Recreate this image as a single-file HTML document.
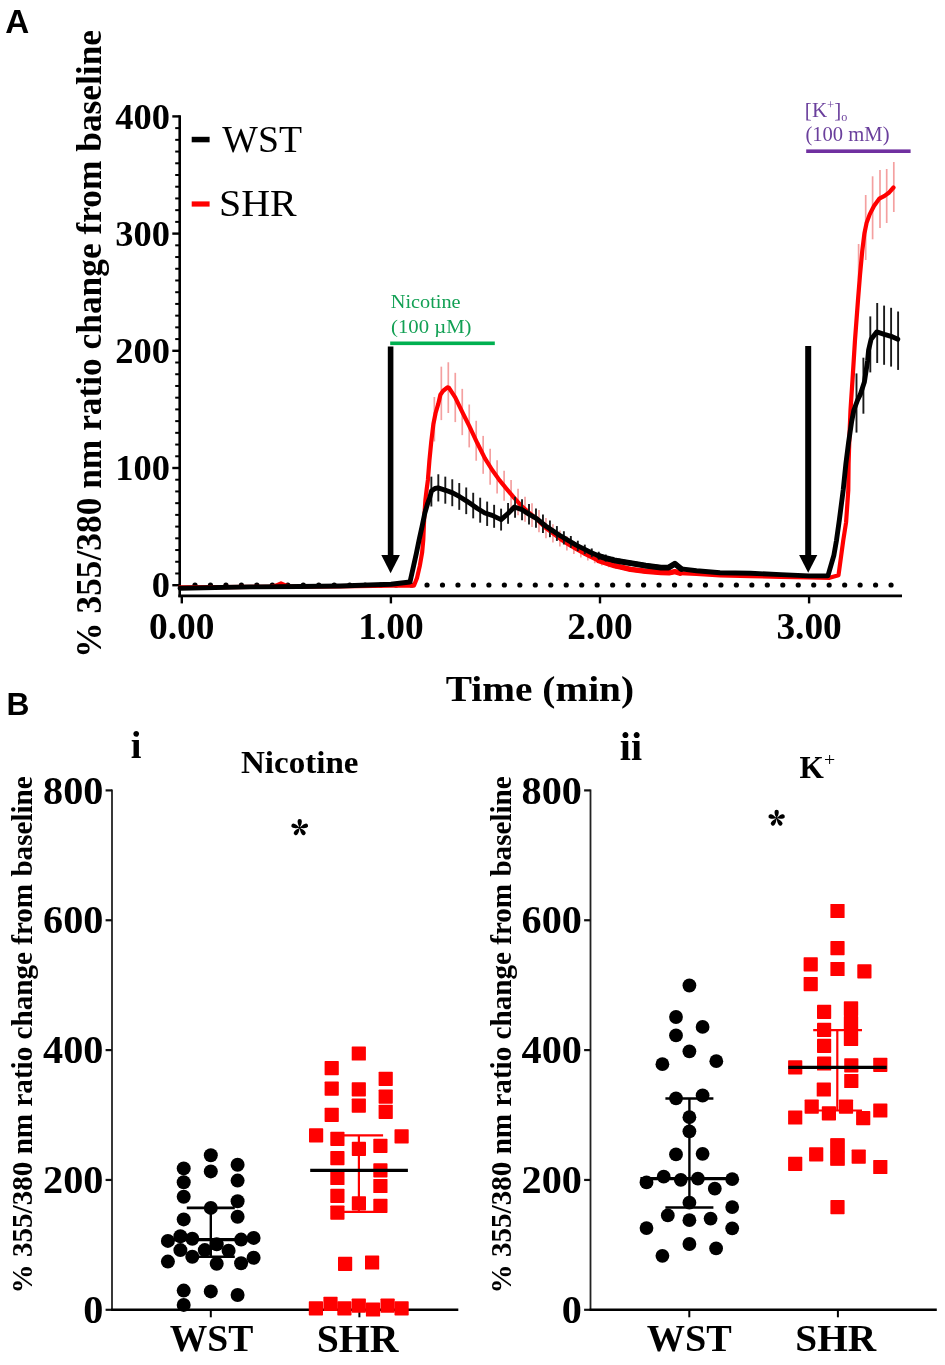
<!DOCTYPE html>
<html><head><meta charset="utf-8"><style>
html,body{margin:0;padding:0;background:#fff;}
body{width:945px;height:1365px;overflow:hidden;font-family:"Liberation Serif",serif;}
svg{display:block;will-change:transform;}
</style></head><body>
<svg width="945" height="1365" viewBox="0 0 945 1365">
<rect width="945" height="1365" fill="#fff"/>
<g transform="matrix(1.02282,0,0,0.99830,-0.794,-0.434)"><text x="6" y="33.6" font-family="'Liberation Sans', sans-serif" font-weight="bold" font-size="32.5">A</text></g>
<line x1="179.7" y1="115.2" x2="179.7" y2="597.2" stroke="#000" stroke-width="2.6"/>
<line x1="172.3" y1="585.20" x2="179.7" y2="585.20" stroke="#000" stroke-width="2.4"/>
<line x1="175.2" y1="573.48" x2="179.7" y2="573.48" stroke="#000" stroke-width="2.0"/>
<line x1="175.2" y1="561.76" x2="179.7" y2="561.76" stroke="#000" stroke-width="2.0"/>
<line x1="175.2" y1="550.04" x2="179.7" y2="550.04" stroke="#000" stroke-width="2.0"/>
<line x1="175.2" y1="538.32" x2="179.7" y2="538.32" stroke="#000" stroke-width="2.0"/>
<line x1="175.2" y1="526.60" x2="179.7" y2="526.60" stroke="#000" stroke-width="2.0"/>
<line x1="175.2" y1="514.88" x2="179.7" y2="514.88" stroke="#000" stroke-width="2.0"/>
<line x1="175.2" y1="503.16" x2="179.7" y2="503.16" stroke="#000" stroke-width="2.0"/>
<line x1="175.2" y1="491.44" x2="179.7" y2="491.44" stroke="#000" stroke-width="2.0"/>
<line x1="175.2" y1="479.72" x2="179.7" y2="479.72" stroke="#000" stroke-width="2.0"/>
<line x1="172.3" y1="468.00" x2="179.7" y2="468.00" stroke="#000" stroke-width="2.4"/>
<line x1="175.2" y1="456.28" x2="179.7" y2="456.28" stroke="#000" stroke-width="2.0"/>
<line x1="175.2" y1="444.56" x2="179.7" y2="444.56" stroke="#000" stroke-width="2.0"/>
<line x1="175.2" y1="432.84" x2="179.7" y2="432.84" stroke="#000" stroke-width="2.0"/>
<line x1="175.2" y1="421.12" x2="179.7" y2="421.12" stroke="#000" stroke-width="2.0"/>
<line x1="175.2" y1="409.40" x2="179.7" y2="409.40" stroke="#000" stroke-width="2.0"/>
<line x1="175.2" y1="397.68" x2="179.7" y2="397.68" stroke="#000" stroke-width="2.0"/>
<line x1="175.2" y1="385.96" x2="179.7" y2="385.96" stroke="#000" stroke-width="2.0"/>
<line x1="175.2" y1="374.24" x2="179.7" y2="374.24" stroke="#000" stroke-width="2.0"/>
<line x1="175.2" y1="362.52" x2="179.7" y2="362.52" stroke="#000" stroke-width="2.0"/>
<line x1="172.3" y1="350.80" x2="179.7" y2="350.80" stroke="#000" stroke-width="2.4"/>
<line x1="175.2" y1="339.08" x2="179.7" y2="339.08" stroke="#000" stroke-width="2.0"/>
<line x1="175.2" y1="327.36" x2="179.7" y2="327.36" stroke="#000" stroke-width="2.0"/>
<line x1="175.2" y1="315.64" x2="179.7" y2="315.64" stroke="#000" stroke-width="2.0"/>
<line x1="175.2" y1="303.92" x2="179.7" y2="303.92" stroke="#000" stroke-width="2.0"/>
<line x1="175.2" y1="292.20" x2="179.7" y2="292.20" stroke="#000" stroke-width="2.0"/>
<line x1="175.2" y1="280.48" x2="179.7" y2="280.48" stroke="#000" stroke-width="2.0"/>
<line x1="175.2" y1="268.76" x2="179.7" y2="268.76" stroke="#000" stroke-width="2.0"/>
<line x1="175.2" y1="257.04" x2="179.7" y2="257.04" stroke="#000" stroke-width="2.0"/>
<line x1="175.2" y1="245.32" x2="179.7" y2="245.32" stroke="#000" stroke-width="2.0"/>
<line x1="172.3" y1="233.60" x2="179.7" y2="233.60" stroke="#000" stroke-width="2.4"/>
<line x1="175.2" y1="221.88" x2="179.7" y2="221.88" stroke="#000" stroke-width="2.0"/>
<line x1="175.2" y1="210.16" x2="179.7" y2="210.16" stroke="#000" stroke-width="2.0"/>
<line x1="175.2" y1="198.44" x2="179.7" y2="198.44" stroke="#000" stroke-width="2.0"/>
<line x1="175.2" y1="186.72" x2="179.7" y2="186.72" stroke="#000" stroke-width="2.0"/>
<line x1="175.2" y1="175.00" x2="179.7" y2="175.00" stroke="#000" stroke-width="2.0"/>
<line x1="175.2" y1="163.28" x2="179.7" y2="163.28" stroke="#000" stroke-width="2.0"/>
<line x1="175.2" y1="151.56" x2="179.7" y2="151.56" stroke="#000" stroke-width="2.0"/>
<line x1="175.2" y1="139.84" x2="179.7" y2="139.84" stroke="#000" stroke-width="2.0"/>
<line x1="175.2" y1="128.12" x2="179.7" y2="128.12" stroke="#000" stroke-width="2.0"/>
<line x1="172.3" y1="116.40" x2="179.7" y2="116.40" stroke="#000" stroke-width="2.4"/>
<text x="169.9" y="597.30" text-anchor="end" font-family="'Liberation Serif', serif" font-weight="bold" font-size="36.4">0</text>
<text x="169.9" y="480.10" text-anchor="end" font-family="'Liberation Serif', serif" font-weight="bold" font-size="36.4">100</text>
<text x="169.9" y="362.90" text-anchor="end" font-family="'Liberation Serif', serif" font-weight="bold" font-size="36.4">200</text>
<text x="169.9" y="245.70" text-anchor="end" font-family="'Liberation Serif', serif" font-weight="bold" font-size="36.4">300</text>
<text x="169.9" y="128.50" text-anchor="end" font-family="'Liberation Serif', serif" font-weight="bold" font-size="36.4">400</text>
<line x1="178.39999999999998" y1="595.8" x2="902" y2="595.8" stroke="#000" stroke-width="2.7"/>
<line x1="181.80" y1="595.8" x2="181.80" y2="603.4" stroke="#000" stroke-width="2.4"/>
<text x="181.80" y="638.7" text-anchor="middle" font-family="'Liberation Serif', serif" font-weight="bold" font-size="37.4">0.00</text>
<line x1="390.90" y1="595.8" x2="390.90" y2="603.4" stroke="#000" stroke-width="2.4"/>
<text x="390.90" y="638.7" text-anchor="middle" font-family="'Liberation Serif', serif" font-weight="bold" font-size="37.4">1.00</text>
<line x1="600.00" y1="595.8" x2="600.00" y2="603.4" stroke="#000" stroke-width="2.4"/>
<text x="600.00" y="638.7" text-anchor="middle" font-family="'Liberation Serif', serif" font-weight="bold" font-size="37.4">2.00</text>
<line x1="809.10" y1="595.8" x2="809.10" y2="603.4" stroke="#000" stroke-width="2.4"/>
<text x="809.10" y="638.7" text-anchor="middle" font-family="'Liberation Serif', serif" font-weight="bold" font-size="37.4">3.00</text>
<g transform="matrix(1.02140,0,0,0.92811,-10.796,51.428)"><text x="539.2" y="699.6" text-anchor="middle" font-family="'Liberation Serif', serif" font-weight="bold" font-size="38.5">Time (min)</text></g>
<g transform="matrix(1.03984,0,0,1.03984,-3.264,-12.315)"><text transform="translate(100,342.5) rotate(-90)" text-anchor="middle" font-family="'Liberation Serif', serif" font-weight="bold" font-size="34">% 355/380 nm ratio change from baseline</text></g>
<circle cx="195.00" cy="585" r="2.6" fill="#000"/>
<circle cx="210.47" cy="585" r="2.6" fill="#000"/>
<circle cx="225.94" cy="585" r="2.6" fill="#000"/>
<circle cx="241.40" cy="585" r="2.6" fill="#000"/>
<circle cx="256.87" cy="585" r="2.6" fill="#000"/>
<circle cx="272.34" cy="585" r="2.6" fill="#000"/>
<circle cx="287.81" cy="585" r="2.6" fill="#000"/>
<circle cx="303.28" cy="585" r="2.6" fill="#000"/>
<circle cx="318.74" cy="585" r="2.6" fill="#000"/>
<circle cx="334.21" cy="585" r="2.6" fill="#000"/>
<circle cx="349.68" cy="585" r="2.6" fill="#000"/>
<circle cx="365.15" cy="585" r="2.6" fill="#000"/>
<circle cx="380.62" cy="585" r="2.6" fill="#000"/>
<circle cx="396.08" cy="585" r="2.6" fill="#000"/>
<circle cx="411.55" cy="585" r="2.6" fill="#000"/>
<circle cx="427.02" cy="585" r="2.6" fill="#000"/>
<circle cx="442.49" cy="585" r="2.6" fill="#000"/>
<circle cx="457.96" cy="585" r="2.6" fill="#000"/>
<circle cx="473.42" cy="585" r="2.6" fill="#000"/>
<circle cx="488.89" cy="585" r="2.6" fill="#000"/>
<circle cx="504.36" cy="585" r="2.6" fill="#000"/>
<circle cx="519.83" cy="585" r="2.6" fill="#000"/>
<circle cx="535.30" cy="585" r="2.6" fill="#000"/>
<circle cx="550.76" cy="585" r="2.6" fill="#000"/>
<circle cx="566.23" cy="585" r="2.6" fill="#000"/>
<circle cx="581.70" cy="585" r="2.6" fill="#000"/>
<circle cx="597.17" cy="585" r="2.6" fill="#000"/>
<circle cx="612.64" cy="585" r="2.6" fill="#000"/>
<circle cx="628.10" cy="585" r="2.6" fill="#000"/>
<circle cx="643.57" cy="585" r="2.6" fill="#000"/>
<circle cx="659.04" cy="585" r="2.6" fill="#000"/>
<circle cx="674.51" cy="585" r="2.6" fill="#000"/>
<circle cx="689.98" cy="585" r="2.6" fill="#000"/>
<circle cx="705.44" cy="585" r="2.6" fill="#000"/>
<circle cx="720.91" cy="585" r="2.6" fill="#000"/>
<circle cx="736.38" cy="585" r="2.6" fill="#000"/>
<circle cx="751.85" cy="585" r="2.6" fill="#000"/>
<circle cx="767.32" cy="585" r="2.6" fill="#000"/>
<circle cx="782.78" cy="585" r="2.6" fill="#000"/>
<circle cx="798.25" cy="585" r="2.6" fill="#000"/>
<circle cx="813.72" cy="585" r="2.6" fill="#000"/>
<circle cx="829.19" cy="585" r="2.6" fill="#000"/>
<circle cx="844.66" cy="585" r="2.6" fill="#000"/>
<circle cx="860.12" cy="585" r="2.6" fill="#000"/>
<circle cx="875.59" cy="585" r="2.6" fill="#000"/>
<circle cx="891.06" cy="585" r="2.6" fill="#000"/>
<rect x="191.7" y="136.8" width="17.9" height="5.5" fill="#000"/>
<rect x="191.7" y="201.4" width="17.9" height="5.2" fill="#f00"/>
<g transform="matrix(0.94271,0,0,0.96434,14.977,4.595)"><text x="220" y="152.6" font-family="'Liberation Serif', serif" font-size="40">WST</text></g>
<g transform="matrix(0.99788,0,0,0.96219,-0.071,7.904)"><text x="219.5" y="216.6" font-family="'Liberation Serif', serif" font-size="40">SHR</text></g>
<g transform="matrix(1.01289,0,0,0.96077,-5.692,11.310)"><text x="391.5" y="308.4" font-family="'Liberation Serif', serif" font-size="20" fill="#12a054">Nicotine</text></g>
<g transform="matrix(1.03684,0,0,0.92163,-14.856,25.737)"><text x="391.5" y="332.9" font-family="'Liberation Serif', serif" font-size="20" fill="#12a054">(100 µM)</text></g>
<rect x="390.2" y="341.5" width="104.6" height="3.6" fill="#00b050"/>
<g transform="matrix(1.05496,0,0,1.02638,-44.893,-3.361)"><text x="805.5" y="116.8" font-family="'Liberation Serif', serif" font-size="20" fill="#6a3f9c">[K<tspan font-size="12" dy="-7">+</tspan><tspan dy="7">]</tspan><tspan font-size="11.5" dy="4">o</tspan></text></g>
<g transform="matrix(1.03097,0,0,1.03909,-25.054,-5.902)"><text x="805.5" y="141" font-family="'Liberation Serif', serif" font-size="20" fill="#6a3f9c">(100 mM)</text></g>
<rect x="806.2" y="149.4" width="104.4" height="3.6" fill="#7030a0"/>
<rect x="387.80" y="346.5" width="5.6" height="209.5" fill="#000"/>
<polygon points="381.30,555 399.90,555 390.60,573.3" fill="#000"/>
<rect x="805.20" y="346.0" width="6.0" height="210.0" fill="#000"/>
<polygon points="799.10,555 817.30,555 808.20,572.8" fill="#000"/>
<line x1="427.38" y1="475.19" x2="427.38" y2="492.69" stroke="#f4a0a0" stroke-width="1.7"/>
<line x1="434.35" y1="397.01" x2="434.35" y2="441.49" stroke="#f4a0a0" stroke-width="1.7"/>
<line x1="441.32" y1="366.65" x2="441.32" y2="420.12" stroke="#f4a0a0" stroke-width="1.7"/>
<line x1="448.30" y1="362.25" x2="448.30" y2="413.00" stroke="#f4a0a0" stroke-width="1.7"/>
<line x1="455.27" y1="372.82" x2="455.27" y2="422.10" stroke="#f4a0a0" stroke-width="1.7"/>
<line x1="462.25" y1="388.86" x2="462.25" y2="435.14" stroke="#f4a0a0" stroke-width="1.7"/>
<line x1="469.23" y1="404.50" x2="469.23" y2="447.40" stroke="#f4a0a0" stroke-width="1.7"/>
<line x1="476.20" y1="420.78" x2="476.20" y2="460.73" stroke="#f4a0a0" stroke-width="1.7"/>
<line x1="483.18" y1="435.88" x2="483.18" y2="473.83" stroke="#f4a0a0" stroke-width="1.7"/>
<line x1="490.15" y1="448.73" x2="490.15" y2="484.68" stroke="#f4a0a0" stroke-width="1.7"/>
<line x1="497.12" y1="460.25" x2="497.12" y2="493.59" stroke="#f4a0a0" stroke-width="1.7"/>
<line x1="504.10" y1="470.82" x2="504.10" y2="500.80" stroke="#f4a0a0" stroke-width="1.7"/>
<line x1="511.07" y1="480.03" x2="511.07" y2="508.26" stroke="#f4a0a0" stroke-width="1.7"/>
<line x1="518.05" y1="488.85" x2="518.05" y2="515.33" stroke="#f4a0a0" stroke-width="1.7"/>
<line x1="525.02" y1="496.63" x2="525.02" y2="521.63" stroke="#f4a0a0" stroke-width="1.7"/>
<line x1="532.00" y1="503.35" x2="532.00" y2="526.95" stroke="#f4a0a0" stroke-width="1.7"/>
<line x1="538.98" y1="510.07" x2="538.98" y2="532.28" stroke="#f4a0a0" stroke-width="1.7"/>
<line x1="545.95" y1="517.98" x2="545.95" y2="538.20" stroke="#f4a0a0" stroke-width="1.7"/>
<line x1="552.92" y1="524.35" x2="552.92" y2="542.48" stroke="#f4a0a0" stroke-width="1.7"/>
<line x1="559.90" y1="530.57" x2="559.90" y2="546.60" stroke="#f4a0a0" stroke-width="1.7"/>
<line x1="566.88" y1="535.95" x2="566.88" y2="550.58" stroke="#f4a0a0" stroke-width="1.7"/>
<line x1="573.85" y1="540.89" x2="573.85" y2="554.12" stroke="#f4a0a0" stroke-width="1.7"/>
<line x1="580.83" y1="545.66" x2="580.83" y2="557.50" stroke="#f4a0a0" stroke-width="1.7"/>
<line x1="587.80" y1="550.08" x2="587.80" y2="560.52" stroke="#f4a0a0" stroke-width="1.7"/>
<line x1="594.77" y1="554.22" x2="594.77" y2="563.27" stroke="#f4a0a0" stroke-width="1.7"/>
<line x1="601.75" y1="557.82" x2="601.75" y2="565.56" stroke="#f4a0a0" stroke-width="1.7"/>
<line x1="608.73" y1="560.57" x2="608.73" y2="567.26" stroke="#f4a0a0" stroke-width="1.7"/>
<line x1="615.70" y1="563.10" x2="615.70" y2="568.74" stroke="#f4a0a0" stroke-width="1.7"/>
<line x1="622.67" y1="565.37" x2="622.67" y2="569.70" stroke="#f4a0a0" stroke-width="1.7"/>
<line x1="629.65" y1="567.90" x2="629.65" y2="570.49" stroke="#f4a0a0" stroke-width="1.7"/>
<line x1="858.6" y1="244" x2="858.6" y2="280" stroke="#f4a0a0" stroke-width="1.7"/>
<line x1="865.7" y1="195.0" x2="865.7" y2="260.0" stroke="#f4a0a0" stroke-width="1.7"/>
<line x1="872.6" y1="176.3" x2="872.6" y2="239.3" stroke="#f4a0a0" stroke-width="1.7"/>
<line x1="880" y1="170" x2="880" y2="228" stroke="#f4a0a0" stroke-width="1.7"/>
<line x1="886.7" y1="169" x2="886.7" y2="223" stroke="#f4a0a0" stroke-width="1.7"/>
<line x1="893.8" y1="162" x2="893.8" y2="212" stroke="#f4a0a0" stroke-width="1.7"/>
<polyline points="599.00,560.80 606.70,563.30 614.30,565.60 620.00,566.90 630.50,569.40 645.70,571.30 661.00,572.50 669.00,572.80 674.90,571.60 680.00,573.20" fill="none" stroke="#ff0000" stroke-width="5.4" stroke-linejoin="round" stroke-linecap="round"/>
<polyline points="180.00,587.30 270.00,586.80 276.00,585.60 281.00,583.40 286.00,585.60 292.00,586.70 340.00,586.40 391.00,585.60 414.00,585.60 417.00,578.00 419.80,565.90 422.10,552.70 423.30,539.60 424.10,520.00 425.40,500.00 426.70,489.00 427.90,480.00 429.40,460.60 431.20,442.30 433.40,424.00 435.60,413.00 438.20,404.20 440.40,394.70 443.00,391.00 447.40,387.40 449.00,387.80 455.20,397.30 462.20,411.90 469.20,425.90 477.40,443.30 484.80,458.10 492.20,470.00 499.60,480.40 507.00,489.30 514.40,498.10 521.90,506.30 529.30,513.00 536.70,518.90 545.70,527.90 553.30,533.70 561.00,539.40 568.60,544.40 576.20,548.90 583.80,553.30 591.40,557.10 599.00,560.80 606.70,563.30 614.30,565.60 620.00,566.90 630.50,569.40 645.70,571.30 661.00,572.50 669.00,572.80 674.90,571.60 680.00,573.20 696.50,574.00 720.00,575.50 750.50,576.20 781.00,576.80 808.90,577.40 829.60,577.80 838.50,575.20 843.20,540.80 846.10,522.20 848.30,490.00 848.60,463.50 849.60,431.70 850.50,410.00 852.50,380.00 855.00,340.00 858.00,300.00 860.00,275.00 862.30,250.40 864.40,233.50 866.60,222.90 869.70,214.40 874.00,206.00 879.30,198.60 884.60,195.90 888.80,192.80 893.50,187.50" fill="none" stroke="#ff0000" stroke-width="4.2" stroke-linejoin="round" stroke-linecap="round"/>
<line x1="424.38" y1="508.80" x2="424.38" y2="521.76" stroke="#1a1a1a" stroke-width="1.9"/>
<line x1="431.35" y1="476.64" x2="431.35" y2="506.50" stroke="#1a1a1a" stroke-width="1.9"/>
<line x1="438.32" y1="474.28" x2="438.32" y2="501.47" stroke="#1a1a1a" stroke-width="1.9"/>
<line x1="445.30" y1="476.64" x2="445.30" y2="503.70" stroke="#1a1a1a" stroke-width="1.9"/>
<line x1="452.27" y1="479.28" x2="452.27" y2="506.21" stroke="#1a1a1a" stroke-width="1.9"/>
<line x1="459.25" y1="483.05" x2="459.25" y2="509.86" stroke="#1a1a1a" stroke-width="1.9"/>
<line x1="466.23" y1="487.47" x2="466.23" y2="514.14" stroke="#1a1a1a" stroke-width="1.9"/>
<line x1="473.20" y1="492.76" x2="473.20" y2="518.34" stroke="#1a1a1a" stroke-width="1.9"/>
<line x1="480.18" y1="497.69" x2="480.18" y2="522.68" stroke="#1a1a1a" stroke-width="1.9"/>
<line x1="487.15" y1="501.58" x2="487.15" y2="525.95" stroke="#1a1a1a" stroke-width="1.9"/>
<line x1="494.12" y1="504.82" x2="494.12" y2="527.80" stroke="#1a1a1a" stroke-width="1.9"/>
<line x1="501.10" y1="508.66" x2="501.10" y2="530.54" stroke="#1a1a1a" stroke-width="1.9"/>
<line x1="508.07" y1="502.98" x2="508.07" y2="523.78" stroke="#1a1a1a" stroke-width="1.9"/>
<line x1="515.05" y1="496.77" x2="515.05" y2="517.68" stroke="#1a1a1a" stroke-width="1.9"/>
<line x1="522.02" y1="499.18" x2="522.02" y2="520.18" stroke="#1a1a1a" stroke-width="1.9"/>
<line x1="529.00" y1="504.01" x2="529.00" y2="524.41" stroke="#1a1a1a" stroke-width="1.9"/>
<line x1="535.98" y1="508.51" x2="535.98" y2="527.87" stroke="#1a1a1a" stroke-width="1.9"/>
<line x1="542.95" y1="514.59" x2="542.95" y2="532.89" stroke="#1a1a1a" stroke-width="1.9"/>
<line x1="549.92" y1="520.49" x2="549.92" y2="537.18" stroke="#1a1a1a" stroke-width="1.9"/>
<line x1="556.90" y1="526.07" x2="556.90" y2="540.90" stroke="#1a1a1a" stroke-width="1.9"/>
<line x1="563.88" y1="531.25" x2="563.88" y2="544.48" stroke="#1a1a1a" stroke-width="1.9"/>
<line x1="570.85" y1="536.02" x2="570.85" y2="547.85" stroke="#1a1a1a" stroke-width="1.9"/>
<line x1="577.83" y1="540.70" x2="577.83" y2="551.13" stroke="#1a1a1a" stroke-width="1.9"/>
<line x1="584.80" y1="544.64" x2="584.80" y2="554.16" stroke="#1a1a1a" stroke-width="1.9"/>
<line x1="591.77" y1="548.45" x2="591.77" y2="557.27" stroke="#1a1a1a" stroke-width="1.9"/>
<line x1="598.75" y1="551.73" x2="598.75" y2="559.86" stroke="#1a1a1a" stroke-width="1.9"/>
<line x1="605.73" y1="554.51" x2="605.73" y2="561.65" stroke="#1a1a1a" stroke-width="1.9"/>
<line x1="612.70" y1="556.85" x2="612.70" y2="562.95" stroke="#1a1a1a" stroke-width="1.9"/>
<line x1="619.67" y1="558.72" x2="619.67" y2="563.77" stroke="#1a1a1a" stroke-width="1.9"/>
<line x1="626.65" y1="560.83" x2="626.65" y2="564.17" stroke="#1a1a1a" stroke-width="1.9"/>
<line x1="856.5" y1="373.4" x2="856.5" y2="432.6" stroke="#1a1a1a" stroke-width="1.9"/>
<line x1="863.4" y1="357.7" x2="863.4" y2="413.7" stroke="#1a1a1a" stroke-width="1.9"/>
<line x1="870.3" y1="316.4" x2="870.3" y2="372.4" stroke="#1a1a1a" stroke-width="1.9"/>
<line x1="877.2" y1="303" x2="877.2" y2="363" stroke="#1a1a1a" stroke-width="1.9"/>
<line x1="884.1" y1="305.59999999999997" x2="884.1" y2="364.8" stroke="#1a1a1a" stroke-width="1.9"/>
<line x1="891.1" y1="307.8" x2="891.1" y2="366.59999999999997" stroke="#1a1a1a" stroke-width="1.9"/>
<line x1="898.1" y1="311.5" x2="898.1" y2="369.9" stroke="#1a1a1a" stroke-width="1.9"/>
<polyline points="599.00,555.90 606.70,558.40 614.30,560.30 620.00,561.30 630.50,563.20 645.70,565.70 661.00,567.60 668.60,567.60 674.90,563.80 681.30,568.90" fill="none" stroke="#000" stroke-width="5.8" stroke-linejoin="round" stroke-linecap="round"/>
<polyline points="180.00,588.20 250.00,586.90 300.00,586.50 340.00,586.00 391.00,584.30 410.00,582.00 413.60,565.90 416.50,552.70 419.20,539.60 422.10,526.40 424.80,513.20 427.70,503.30 429.80,497.50 431.50,491.00 435.00,488.50 438.10,487.80 445.70,490.30 452.70,492.90 459.70,496.70 466.70,501.10 470.00,503.30 477.40,508.50 484.80,513.00 492.20,515.40 501.10,519.60 508.50,513.00 514.40,507.00 521.90,509.60 529.30,514.40 536.70,518.60 545.70,526.00 553.30,531.10 561.00,536.20 568.60,540.60 576.20,545.10 583.80,548.90 591.40,552.70 599.00,555.90 606.70,558.40 614.30,560.30 620.00,561.30 630.50,563.20 645.70,565.70 661.00,567.60 668.60,567.60 674.90,563.80 681.30,568.90 696.50,570.80 720.00,572.70 750.50,573.30 781.00,574.60 808.90,575.90 827.90,575.90 833.90,555.20 836.40,540.80 839.40,519.60 843.20,490.00 845.90,463.50 848.60,442.30 851.70,421.20 853.90,410.00 857.60,400.00 860.20,394.70 864.40,382.00 867.60,360.80 868.60,350.00 871.10,339.30 876.70,331.90 884.40,334.40 891.10,336.30 897.80,339.30" fill="none" stroke="#000" stroke-width="4.9" stroke-linejoin="round" stroke-linecap="round"/>
<g transform="matrix(0.97760,0,0,0.99171,-0.818,5.512)"><text x="7.5" y="715.2" font-family="'Liberation Sans', sans-serif" font-weight="bold" font-size="32.5">B</text></g>
<line x1="112.0" y1="789.6" x2="112.0" y2="1309.8" stroke="#222" stroke-width="1.8"/>
<line x1="105.60" y1="1309.80" x2="112.0" y2="1309.80" stroke="#111" stroke-width="2.2"/>
<text x="103.40" y="1322.90" text-anchor="end" font-family="'Liberation Serif', serif" font-weight="bold" font-size="40.2">0</text>
<line x1="105.60" y1="1179.95" x2="112.0" y2="1179.95" stroke="#111" stroke-width="2.2"/>
<text x="103.40" y="1193.05" text-anchor="end" font-family="'Liberation Serif', serif" font-weight="bold" font-size="40.2">200</text>
<line x1="105.60" y1="1050.10" x2="112.0" y2="1050.10" stroke="#111" stroke-width="2.2"/>
<text x="103.40" y="1063.20" text-anchor="end" font-family="'Liberation Serif', serif" font-weight="bold" font-size="40.2">400</text>
<line x1="105.60" y1="920.25" x2="112.0" y2="920.25" stroke="#111" stroke-width="2.2"/>
<text x="103.40" y="933.35" text-anchor="end" font-family="'Liberation Serif', serif" font-weight="bold" font-size="40.2">600</text>
<line x1="105.60" y1="790.40" x2="112.0" y2="790.40" stroke="#111" stroke-width="2.2"/>
<text x="103.40" y="803.50" text-anchor="end" font-family="'Liberation Serif', serif" font-weight="bold" font-size="40.2">800</text>
<line x1="111.1" y1="1309.8" x2="458.3" y2="1309.8" stroke="#000" stroke-width="2.6"/>
<line x1="210.80" y1="1309.8" x2="210.80" y2="1317.3" stroke="#000" stroke-width="2.0"/>
<g transform="matrix(0.93991,0,0,0.95359,13.391,61.314)"><text x="210.80" y="1352.6" text-anchor="middle" font-family="'Liberation Serif', serif" font-weight="bold" font-size="40">WST</text></g>
<line x1="359.40" y1="1309.8" x2="359.40" y2="1317.3" stroke="#000" stroke-width="2.0"/>
<g transform="matrix(0.99409,0,0,0.99263,0.287,9.677)"><text x="359.40" y="1352.6" text-anchor="middle" font-family="'Liberation Serif', serif" font-weight="bold" font-size="40">SHR</text></g>
<g transform="matrix(1.02240,0,0,1.02240,0.370,-21.876)"><text transform="translate(30.8,1033.6) rotate(-90)" text-anchor="middle" font-family="'Liberation Serif', serif" font-weight="bold" font-size="28.5">% 355/380 nm ratio change from baseline</text></g>
<line x1="590.5" y1="789.6" x2="590.5" y2="1309.8" stroke="#222" stroke-width="1.8"/>
<line x1="584.10" y1="1309.80" x2="590.5" y2="1309.80" stroke="#111" stroke-width="2.2"/>
<text x="581.90" y="1322.90" text-anchor="end" font-family="'Liberation Serif', serif" font-weight="bold" font-size="40.2">0</text>
<line x1="584.10" y1="1179.95" x2="590.5" y2="1179.95" stroke="#111" stroke-width="2.2"/>
<text x="581.90" y="1193.05" text-anchor="end" font-family="'Liberation Serif', serif" font-weight="bold" font-size="40.2">200</text>
<line x1="584.10" y1="1050.10" x2="590.5" y2="1050.10" stroke="#111" stroke-width="2.2"/>
<text x="581.90" y="1063.20" text-anchor="end" font-family="'Liberation Serif', serif" font-weight="bold" font-size="40.2">400</text>
<line x1="584.10" y1="920.25" x2="590.5" y2="920.25" stroke="#111" stroke-width="2.2"/>
<text x="581.90" y="933.35" text-anchor="end" font-family="'Liberation Serif', serif" font-weight="bold" font-size="40.2">600</text>
<line x1="584.10" y1="790.40" x2="590.5" y2="790.40" stroke="#111" stroke-width="2.2"/>
<text x="581.90" y="803.50" text-anchor="end" font-family="'Liberation Serif', serif" font-weight="bold" font-size="40.2">800</text>
<line x1="589.6" y1="1309.8" x2="936.8" y2="1309.8" stroke="#000" stroke-width="2.6"/>
<line x1="689.30" y1="1309.8" x2="689.30" y2="1317.3" stroke="#000" stroke-width="2.0"/>
<g transform="matrix(0.95622,0,0,0.94256,30.193,76.128)"><text x="689.30" y="1352.6" text-anchor="middle" font-family="'Liberation Serif', serif" font-weight="bold" font-size="40">WST</text></g>
<line x1="837.90" y1="1309.8" x2="837.90" y2="1317.3" stroke="#000" stroke-width="2.0"/>
<g transform="matrix(0.98355,0,0,0.94159,11.698,77.830)"><text x="837.90" y="1352.6" text-anchor="middle" font-family="'Liberation Serif', serif" font-weight="bold" font-size="40">SHR</text></g>
<g transform="matrix(1.02240,0,0,1.02240,-10.328,-21.876)"><text transform="translate(510.3,1033.6) rotate(-90)" text-anchor="middle" font-family="'Liberation Serif', serif" font-weight="bold" font-size="28.5">% 355/380 nm ratio change from baseline</text></g>
<g transform="matrix(0.93861,0,0,0.94905,8.684,38.502)"><text x="130" y="757.9" font-family="'Liberation Serif', serif" font-weight="bold" font-size="41">i</text></g>
<g transform="matrix(0.97568,0,0,0.95944,15.845,30.680)"><text x="619" y="760" font-family="'Liberation Serif', serif" font-weight="bold" font-size="41">ii</text></g>
<g transform="matrix(1.01759,0,0,0.98200,-3.244,13.705)"><text x="240" y="772.8" font-family="'Liberation Serif', serif" font-weight="bold" font-size="32.5">Nicotine</text></g>
<g transform="matrix(0.94813,0,0,0.93113,42.543,52.901)"><text x="798.5" y="778.7" font-family="'Liberation Serif', serif" font-weight="bold" font-size="33">K<tspan font-weight="normal" font-size="21" dy="-13">+</tspan></text></g>
<g transform="translate(299.7,827.8)" fill="#000"><path d="M0,0 C-0.75,-1.64 -2.15,-3.60 -2.15,-6.55 A2.15,2.15 0 0 1 2.15,-6.55 C2.15,-3.60 0.75,-1.64 0,0 Z" transform="rotate(0)"/><path d="M0,0 C-0.75,-1.64 -2.15,-3.60 -2.15,-6.55 A2.15,2.15 0 0 1 2.15,-6.55 C2.15,-3.60 0.75,-1.64 0,0 Z" transform="rotate(72)"/><path d="M0,0 C-0.75,-1.64 -2.15,-3.60 -2.15,-6.55 A2.15,2.15 0 0 1 2.15,-6.55 C2.15,-3.60 0.75,-1.64 0,0 Z" transform="rotate(144)"/><path d="M0,0 C-0.75,-1.64 -2.15,-3.60 -2.15,-6.55 A2.15,2.15 0 0 1 2.15,-6.55 C2.15,-3.60 0.75,-1.64 0,0 Z" transform="rotate(216)"/><path d="M0,0 C-0.75,-1.64 -2.15,-3.60 -2.15,-6.55 A2.15,2.15 0 0 1 2.15,-6.55 C2.15,-3.60 0.75,-1.64 0,0 Z" transform="rotate(288)"/><circle r="1.0"/></g>
<g transform="translate(776.65,818.3)" fill="#000"><path d="M0,0 C-0.75,-1.59 -2.15,-3.49 -2.15,-6.35 A2.15,2.15 0 0 1 2.15,-6.35 C2.15,-3.49 0.75,-1.59 0,0 Z" transform="rotate(0)"/><path d="M0,0 C-0.75,-1.59 -2.15,-3.49 -2.15,-6.35 A2.15,2.15 0 0 1 2.15,-6.35 C2.15,-3.49 0.75,-1.59 0,0 Z" transform="rotate(72)"/><path d="M0,0 C-0.75,-1.59 -2.15,-3.49 -2.15,-6.35 A2.15,2.15 0 0 1 2.15,-6.35 C2.15,-3.49 0.75,-1.59 0,0 Z" transform="rotate(144)"/><path d="M0,0 C-0.75,-1.59 -2.15,-3.49 -2.15,-6.35 A2.15,2.15 0 0 1 2.15,-6.35 C2.15,-3.49 0.75,-1.59 0,0 Z" transform="rotate(216)"/><path d="M0,0 C-0.75,-1.59 -2.15,-3.49 -2.15,-6.35 A2.15,2.15 0 0 1 2.15,-6.35 C2.15,-3.49 0.75,-1.59 0,0 Z" transform="rotate(288)"/><circle r="1.0"/></g>
<circle cx="210.8" cy="1155.2" r="7.0" fill="#000"/>
<circle cx="183.7" cy="1168.4" r="7.0" fill="#000"/>
<circle cx="210.8" cy="1171.4" r="7.0" fill="#000"/>
<circle cx="237.6" cy="1164.8" r="7.0" fill="#000"/>
<circle cx="183.7" cy="1182.2" r="7.0" fill="#000"/>
<circle cx="237.6" cy="1180.6" r="7.0" fill="#000"/>
<circle cx="183.7" cy="1196.7" r="7.0" fill="#000"/>
<circle cx="237.6" cy="1201.3" r="7.0" fill="#000"/>
<circle cx="210.8" cy="1207.9" r="7.0" fill="#000"/>
<circle cx="183.7" cy="1219.4" r="7.0" fill="#000"/>
<circle cx="237.6" cy="1216.8" r="7.0" fill="#000"/>
<circle cx="180.4" cy="1236.3" r="7.0" fill="#000"/>
<circle cx="167.9" cy="1240.9" r="7.0" fill="#000"/>
<circle cx="192.3" cy="1238.7" r="7.0" fill="#000"/>
<circle cx="241.1" cy="1239.6" r="7.0" fill="#000"/>
<circle cx="253.6" cy="1237.9" r="7.0" fill="#000"/>
<circle cx="216.7" cy="1244.2" r="7.0" fill="#000"/>
<circle cx="180.4" cy="1250.1" r="7.0" fill="#000"/>
<circle cx="204.8" cy="1250.1" r="7.0" fill="#000"/>
<circle cx="228.6" cy="1250.8" r="7.0" fill="#000"/>
<circle cx="192.3" cy="1256.7" r="7.0" fill="#000"/>
<circle cx="167.9" cy="1261.6" r="7.0" fill="#000"/>
<circle cx="216.7" cy="1263.7" r="7.0" fill="#000"/>
<circle cx="241.1" cy="1263.3" r="7.0" fill="#000"/>
<circle cx="253.6" cy="1257.8" r="7.0" fill="#000"/>
<circle cx="183.7" cy="1290.6" r="7.0" fill="#000"/>
<circle cx="210.8" cy="1291.4" r="7.0" fill="#000"/>
<circle cx="237.6" cy="1295" r="7.0" fill="#000"/>
<circle cx="183.7" cy="1304.9" r="7.0" fill="#000"/>
<line x1="210.8" y1="1207.9" x2="210.8" y2="1256.7" stroke="#000" stroke-width="2.4"/>
<line x1="186.8" y1="1207.9" x2="234.8" y2="1207.9" stroke="#000" stroke-width="2.6"/>
<line x1="186.8" y1="1256.7" x2="234.8" y2="1256.7" stroke="#000" stroke-width="2.6"/>
<line x1="161.8" y1="1239.6" x2="259.8" y2="1239.6" stroke="#000" stroke-width="3.2"/>
<rect x="351.70" y="1046.40" width="14.2" height="14.2" rx="0.7" fill="#f00"/>
<rect x="324.60" y="1061.00" width="14.2" height="14.2" rx="0.7" fill="#f00"/>
<rect x="378.60" y="1071.80" width="14.2" height="14.2" rx="0.7" fill="#f00"/>
<rect x="324.60" y="1081.60" width="14.2" height="14.2" rx="0.7" fill="#f00"/>
<rect x="351.70" y="1082.30" width="14.2" height="14.2" rx="0.7" fill="#f00"/>
<rect x="378.60" y="1089.60" width="14.2" height="14.2" rx="0.7" fill="#f00"/>
<rect x="351.70" y="1098.50" width="14.2" height="14.2" rx="0.7" fill="#f00"/>
<rect x="378.60" y="1104.80" width="14.2" height="14.2" rx="0.7" fill="#f00"/>
<rect x="324.60" y="1107.70" width="14.2" height="14.2" rx="0.7" fill="#f00"/>
<rect x="309.00" y="1128.30" width="14.2" height="14.2" rx="0.7" fill="#f00"/>
<rect x="330.30" y="1131.70" width="14.2" height="14.2" rx="0.7" fill="#f00"/>
<rect x="394.50" y="1129.30" width="14.2" height="14.2" rx="0.7" fill="#f00"/>
<rect x="351.80" y="1141.70" width="14.2" height="14.2" rx="0.7" fill="#f00"/>
<rect x="373.30" y="1138.70" width="14.2" height="14.2" rx="0.7" fill="#f00"/>
<rect x="330.30" y="1151.00" width="14.2" height="14.2" rx="0.7" fill="#f00"/>
<rect x="373.30" y="1163.30" width="14.2" height="14.2" rx="0.7" fill="#f00"/>
<rect x="330.30" y="1170.90" width="14.2" height="14.2" rx="0.7" fill="#f00"/>
<rect x="373.30" y="1178.90" width="14.2" height="14.2" rx="0.7" fill="#f00"/>
<rect x="330.30" y="1188.70" width="14.2" height="14.2" rx="0.7" fill="#f00"/>
<rect x="351.80" y="1196.30" width="14.2" height="14.2" rx="0.7" fill="#f00"/>
<rect x="373.30" y="1198.80" width="14.2" height="14.2" rx="0.7" fill="#f00"/>
<rect x="330.30" y="1205.60" width="14.2" height="14.2" rx="0.7" fill="#f00"/>
<rect x="338.00" y="1256.70" width="14.2" height="14.2" rx="0.7" fill="#f00"/>
<rect x="365.00" y="1255.40" width="14.2" height="14.2" rx="0.7" fill="#f00"/>
<rect x="308.80" y="1301.20" width="14.2" height="14.2" rx="0.7" fill="#f00"/>
<rect x="323.40" y="1296.70" width="14.2" height="14.2" rx="0.7" fill="#f00"/>
<rect x="337.30" y="1301.20" width="14.2" height="14.2" rx="0.7" fill="#f00"/>
<rect x="351.70" y="1298.60" width="14.2" height="14.2" rx="0.7" fill="#f00"/>
<rect x="365.90" y="1302.40" width="14.2" height="14.2" rx="0.7" fill="#f00"/>
<rect x="380.50" y="1298.60" width="14.2" height="14.2" rx="0.7" fill="#f00"/>
<rect x="394.50" y="1301.20" width="14.2" height="14.2" rx="0.7" fill="#f00"/>
<line x1="358.9" y1="1135.4" x2="358.9" y2="1211.9" stroke="#f00" stroke-width="2.2"/>
<line x1="334.8" y1="1135.4" x2="383.1" y2="1135.4" stroke="#f00" stroke-width="2.2"/>
<line x1="334.8" y1="1211.9" x2="383.1" y2="1211.9" stroke="#f00" stroke-width="2.2"/>
<line x1="310.2" y1="1170.4" x2="407.9" y2="1170.4" stroke="#000" stroke-width="3.2"/>
<circle cx="689.4" cy="985.5" r="6.9" fill="#000"/>
<circle cx="676" cy="1017" r="6.9" fill="#000"/>
<circle cx="702.6" cy="1026.9" r="6.9" fill="#000"/>
<circle cx="676" cy="1035.4" r="6.9" fill="#000"/>
<circle cx="689.4" cy="1051.3" r="6.9" fill="#000"/>
<circle cx="662.4" cy="1064.2" r="6.9" fill="#000"/>
<circle cx="716.3" cy="1061.2" r="6.9" fill="#000"/>
<circle cx="676" cy="1098.3" r="6.9" fill="#000"/>
<circle cx="702.6" cy="1095.5" r="6.9" fill="#000"/>
<circle cx="689.4" cy="1117.2" r="6.9" fill="#000"/>
<circle cx="689.4" cy="1131.3" r="6.9" fill="#000"/>
<circle cx="676" cy="1154.4" r="6.9" fill="#000"/>
<circle cx="702.6" cy="1153.8" r="6.9" fill="#000"/>
<circle cx="646.5" cy="1182.4" r="6.9" fill="#000"/>
<circle cx="663.7" cy="1176.7" r="6.9" fill="#000"/>
<circle cx="680.8" cy="1179.8" r="6.9" fill="#000"/>
<circle cx="697.9" cy="1178.6" r="6.9" fill="#000"/>
<circle cx="732.2" cy="1179.2" r="6.9" fill="#000"/>
<circle cx="714.8" cy="1188.7" r="6.9" fill="#000"/>
<circle cx="689.4" cy="1202.7" r="6.9" fill="#000"/>
<circle cx="732.2" cy="1207.1" r="6.9" fill="#000"/>
<circle cx="667.8" cy="1215.4" r="6.9" fill="#000"/>
<circle cx="689.4" cy="1220.2" r="6.9" fill="#000"/>
<circle cx="710.6" cy="1218.6" r="6.9" fill="#000"/>
<circle cx="646.5" cy="1228.1" r="6.9" fill="#000"/>
<circle cx="732.2" cy="1228.3" r="6.9" fill="#000"/>
<circle cx="689.4" cy="1244" r="6.9" fill="#000"/>
<circle cx="716.1" cy="1248.4" r="6.9" fill="#000"/>
<circle cx="662.4" cy="1255.8" r="6.9" fill="#000"/>
<line x1="689.4" y1="1098.5" x2="689.4" y2="1207.5" stroke="#000" stroke-width="2.4"/>
<line x1="665.4" y1="1098.5" x2="713.4" y2="1098.5" stroke="#000" stroke-width="2.6"/>
<line x1="665.4" y1="1207.5" x2="713.4" y2="1207.5" stroke="#000" stroke-width="2.6"/>
<line x1="640.4" y1="1178.6" x2="738.4" y2="1178.6" stroke="#000" stroke-width="3.2"/>
<rect x="830.40" y="903.90" width="14.2" height="14.2" rx="0.7" fill="#f00"/>
<rect x="830.40" y="941.10" width="14.2" height="14.2" rx="0.7" fill="#f00"/>
<rect x="803.60" y="957.20" width="14.2" height="14.2" rx="0.7" fill="#f00"/>
<rect x="830.40" y="961.90" width="14.2" height="14.2" rx="0.7" fill="#f00"/>
<rect x="857.30" y="964.20" width="14.2" height="14.2" rx="0.7" fill="#f00"/>
<rect x="803.60" y="977.10" width="14.2" height="14.2" rx="0.7" fill="#f00"/>
<rect x="817.00" y="1004.70" width="14.2" height="14.2" rx="0.7" fill="#f00"/>
<rect x="843.90" y="1001.40" width="14.2" height="14.2" rx="0.7" fill="#f00"/>
<rect x="843.90" y="1016.40" width="14.2" height="14.2" rx="0.7" fill="#f00"/>
<rect x="843.90" y="1031.80" width="14.2" height="14.2" rx="0.7" fill="#f00"/>
<rect x="817.00" y="1022.70" width="14.2" height="14.2" rx="0.7" fill="#f00"/>
<rect x="817.00" y="1038.80" width="14.2" height="14.2" rx="0.7" fill="#f00"/>
<rect x="817.00" y="1056.40" width="14.2" height="14.2" rx="0.7" fill="#f00"/>
<rect x="844.20" y="1058.30" width="14.2" height="14.2" rx="0.7" fill="#f00"/>
<rect x="844.20" y="1073.90" width="14.2" height="14.2" rx="0.7" fill="#f00"/>
<rect x="788.10" y="1060.20" width="14.2" height="14.2" rx="0.7" fill="#f00"/>
<rect x="873.20" y="1057.70" width="14.2" height="14.2" rx="0.7" fill="#f00"/>
<rect x="816.70" y="1082.40" width="14.2" height="14.2" rx="0.7" fill="#f00"/>
<rect x="804.60" y="1099.60" width="14.2" height="14.2" rx="0.7" fill="#f00"/>
<rect x="821.80" y="1106.30" width="14.2" height="14.2" rx="0.7" fill="#f00"/>
<rect x="838.90" y="1099.60" width="14.2" height="14.2" rx="0.7" fill="#f00"/>
<rect x="856.10" y="1111.00" width="14.2" height="14.2" rx="0.7" fill="#f00"/>
<rect x="873.20" y="1103.40" width="14.2" height="14.2" rx="0.7" fill="#f00"/>
<rect x="788.10" y="1110.40" width="14.2" height="14.2" rx="0.7" fill="#f00"/>
<rect x="830.40" y="1138.30" width="14.2" height="14.2" rx="0.7" fill="#f00"/>
<rect x="830.40" y="1151.40" width="14.2" height="14.2" rx="0.7" fill="#f00"/>
<rect x="809.10" y="1147.20" width="14.2" height="14.2" rx="0.7" fill="#f00"/>
<rect x="851.60" y="1149.50" width="14.2" height="14.2" rx="0.7" fill="#f00"/>
<rect x="788.10" y="1156.70" width="14.2" height="14.2" rx="0.7" fill="#f00"/>
<rect x="873.20" y="1159.90" width="14.2" height="14.2" rx="0.7" fill="#f00"/>
<rect x="830.40" y="1200.00" width="14.2" height="14.2" rx="0.7" fill="#f00"/>
<rect x="843.9" y="1001.6" width="14.2" height="44.2" fill="#f00"/>
<rect x="830.4" y="1138.4" width="14.2" height="27.3" fill="#f00"/>
<line x1="837.3" y1="1030.2" x2="837.3" y2="1110.5" stroke="#f00" stroke-width="2.2"/>
<line x1="813.2" y1="1030.2" x2="862" y2="1030.2" stroke="#f00" stroke-width="2.2"/>
<line x1="813.2" y1="1110.5" x2="862" y2="1110.5" stroke="#f00" stroke-width="2.2"/>
<line x1="788.3" y1="1067.3" x2="886.7" y2="1067.3" stroke="#000" stroke-width="3.2"/>
</svg>
</body></html>
